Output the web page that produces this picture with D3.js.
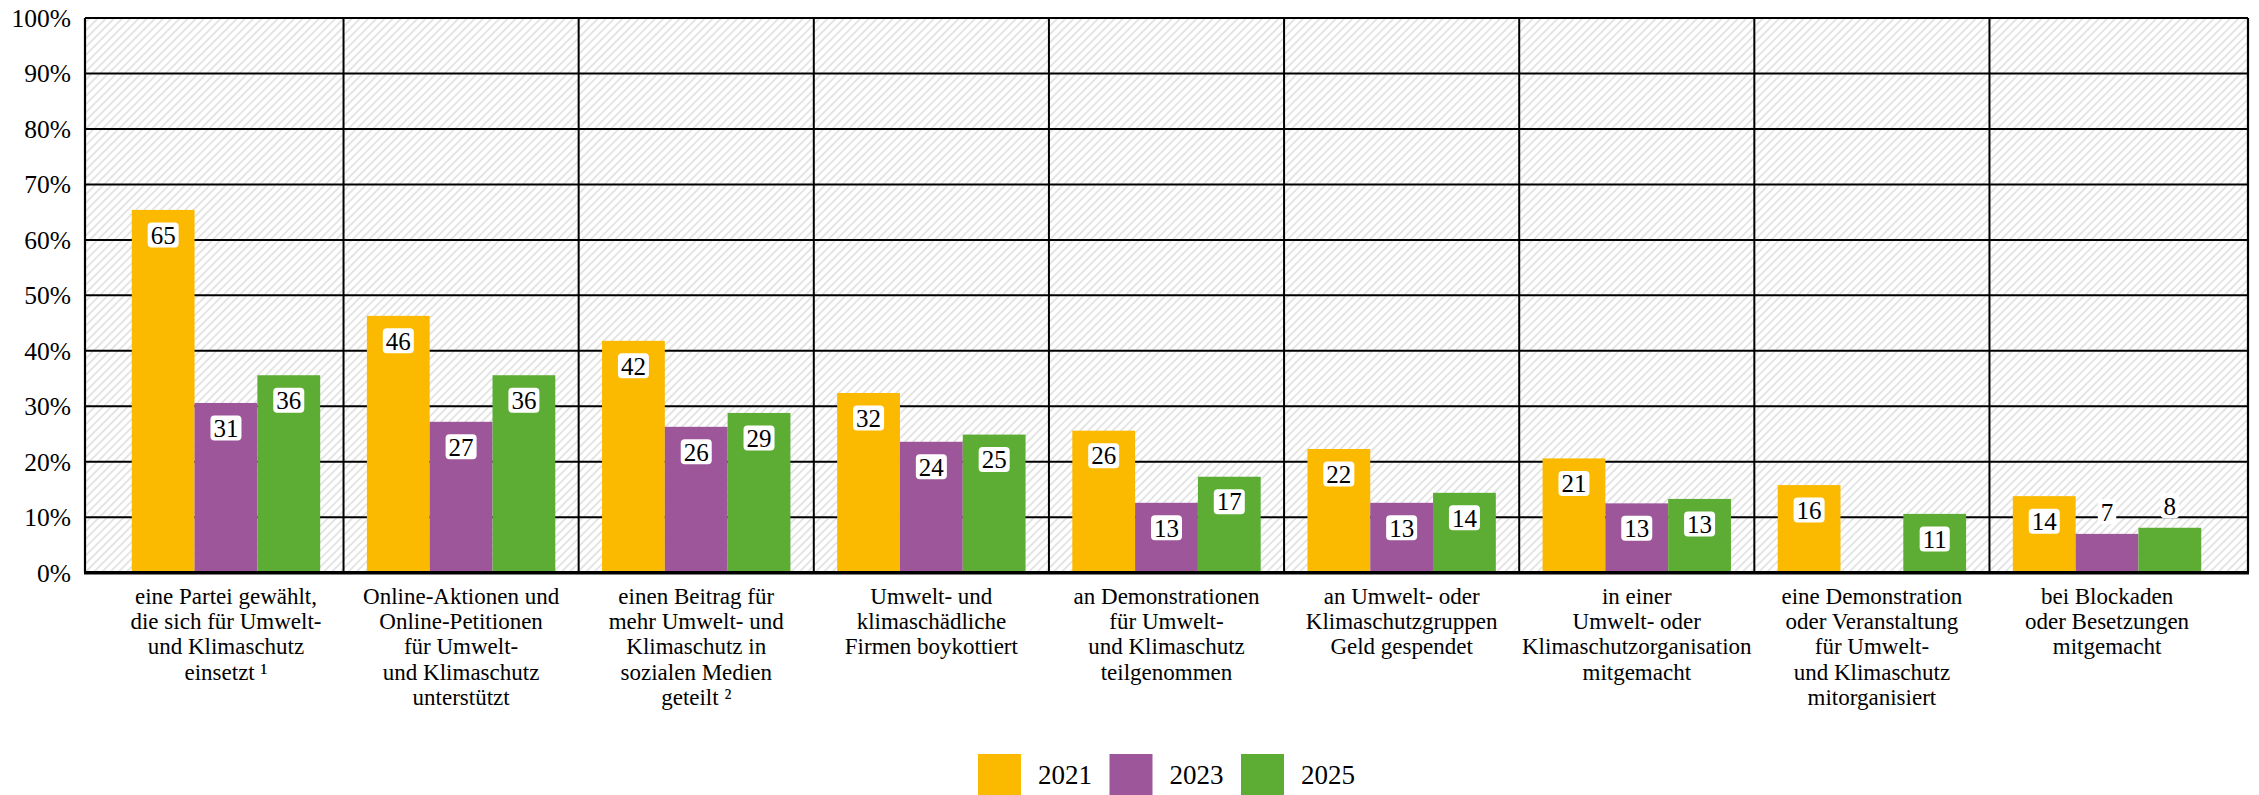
<!DOCTYPE html>
<html>
<head>
<meta charset="utf-8">
<script src="https://cdn.jsdelivr.net/npm/d3@7"></script>
<style>
  body { margin: 0; background: #fff; }
  svg { display: block; font-family: "Liberation Serif", serif; }
</style>
</head>
<body>
<svg id="chart" width="2259" height="795"></svg>
<script>
"use strict";

// categories, one line per row of the axis label
const categories = [
  ["eine Partei gewählt,", "die sich für Umwelt-", "und Klimaschutz", "einsetzt ¹"],
  ["Online-Aktionen und", "Online-Petitionen", "für Umwelt-", "und Klimaschutz", "unterstützt"],
  ["einen Beitrag für", "mehr Umwelt- und", "Klimaschutz in", "sozialen Medien", "geteilt ²"],
  ["Umwelt- und", "klimaschädliche", "Firmen boykottiert"],
  ["an Demonstrationen", "für Umwelt-", "und Klimaschutz", "teilgenommen"],
  ["an Umwelt- oder", "Klimaschutzgruppen", "Geld gespendet"],
  ["in einer", "Umwelt- oder", "Klimaschutzorganisation", "mitgemacht"],
  ["eine Demonstration", "oder Veranstaltung", "für Umwelt-", "und Klimaschutz", "mitorganisiert"],
  ["bei Blockaden", "oder Besetzungen", "mitgemacht"]
];

const years = ["2021", "2023", "2025"];
const colors = ["#FBBA00", "#9C5699", "#5DAD35"];

// percentages per year (null = not asked)
const values2021 = [65.4, 46.3, 41.8, 32.4, 25.6, 22.3, 20.6, 15.8, 13.8];
const values2023 = [30.6, 27.2, 26.3, 23.6, 12.6, 12.6, 12.5, null, 7.0];
const values2025 = [35.6, 35.6, 28.8, 24.9, 17.3, 14.4, 13.3, 10.6, 8.1];

const yTicks = [0, 10, 20, 30, 40, 50, 60, 70, 80, 90, 100];

const series = [values2021, values2023, values2025];

let svg = d3.select('#chart');

let plot = {left: 85, right: 2248, top: 18, bottom: 572.7};

let catIds = categories.map((c, i) => i);

let xScale = d3.scaleBand()
  .domain(catIds)
  .range([108.4, 2224.6]);

let groupWidth = 188.4;
let xInner = d3.scaleBand()
  .domain(years)
  .range([0, groupWidth]);
let groupOffset = (xScale.bandwidth() - groupWidth) / 2;

let yScale = d3.scaleLinear()
  .domain([0, 100])
  .range([plot.bottom, plot.top]);

/* hatch pattern for the plot background */
let defs = svg.append('defs');
defs.append('pattern')
  .attr('id', 'hatch')
  .attr('patternUnits', 'userSpaceOnUse')
  .attr('width', 5.8)
  .attr('height', 5.8)
  .attr('patternTransform', 'rotate(45)')
  .append('rect')
  .attr('width', 1.9)
  .attr('height', 5.8)
  .attr('fill', '#e4e4e4');

svg.append('rect')
  .attr('x', plot.left)
  .attr('y', plot.top)
  .attr('width', plot.right - plot.left)
  .attr('height', plot.bottom - plot.top)
  .attr('fill', '#fff');
svg.append('rect')
  .attr('x', plot.left)
  .attr('y', plot.top)
  .attr('width', plot.right - plot.left)
  .attr('height', plot.bottom - plot.top)
  .attr('fill', 'url(#hatch)');

/* grid */
let grid = svg.append('g');
grid.selectAll('line.h')
  .data(yTicks.filter(t => t > 0))
  .enter()
  .append('line')
  .attr('x1', plot.left)
  .attr('x2', plot.right)
  .attr('y1', d => yScale(d))
  .attr('y2', d => yScale(d))
  .attr('stroke', '#000')
  .attr('stroke-width', 2);

grid.selectAll('line.v')
  .data(catIds.slice(1))
  .enter()
  .append('line')
  .attr('x1', d => xScale(d))
  .attr('x2', d => xScale(d))
  .attr('y1', plot.top)
  .attr('y2', plot.bottom)
  .attr('stroke', '#000')
  .attr('stroke-width', 2);

grid.selectAll('line.b')
  .data([plot.left, plot.right])
  .enter()
  .append('line')
  .attr('x1', d => d)
  .attr('x2', d => d)
  .attr('y1', plot.top)
  .attr('y2', plot.bottom)
  .attr('stroke', '#000')
  .attr('stroke-width', 2.2);

/* bars */
let bars = [];
series.forEach((vals, s) => {
  vals.forEach((v, c) => {
    if (v !== null) bars.push({c: c, s: s, v: v});
  });
});

svg.append('g')
  .selectAll('rect')
  .data(bars)
  .enter()
  .append('rect')
  .attr('x', d => xScale(d.c) + groupOffset + xInner(years[d.s]))
  .attr('y', d => yScale(d.v))
  .attr('width', xInner.bandwidth())
  .attr('height', d => yScale(0) - yScale(d.v))
  .attr('fill', d => colors[d.s]);

/* bottom axis line */
svg.append('line')
  .attr('x1', plot.left - 1)
  .attr('x2', plot.right + 1)
  .attr('y1', plot.bottom)
  .attr('y2', plot.bottom)
  .attr('stroke', '#000')
  .attr('stroke-width', 3.4);

/* value labels */
let labels = svg.append('g')
  .selectAll('g')
  .data(bars)
  .enter()
  .append('g')
  .attr('transform', d => {
    let cx = xScale(d.c) + groupOffset + xInner(years[d.s]) + xInner.bandwidth() / 2;
    let h = yScale(0) - yScale(d.v);
    let cy = h < 50 ? yScale(d.v) - 22 : yScale(d.v) + 25;
    return `translate(${cx},${cy})`;
  });

labels.append('rect')
  .attr('fill', '#fff')
  .attr('rx', 4);

labels.append('text')
  .attr('text-anchor', 'middle')
  .attr('dy', '0.35em')
  .style('font-size', '25px')
  .text(d => Math.round(d.v));

labels.each(function() {
  let g = d3.select(this);
  let w = g.select('text').node().getComputedTextLength();
  g.select('rect')
    .attr('x', -w / 2 - 3)
    .attr('y', -12.5)
    .attr('width', w + 6)
    .attr('height', 25);
});

/* y axis labels */
svg.append('g')
  .selectAll('text')
  .data(yTicks)
  .enter()
  .append('text')
  .attr('x', 71)
  .attr('y', d => yScale(d))
  .attr('dy', '0.35em')
  .attr('text-anchor', 'end')
  .style('font-size', '25.5px')
  .text(d => d + '%');

/* category labels */
svg.append('g')
  .selectAll('text')
  .data(categories)
  .enter()
  .append('text')
  .attr('text-anchor', 'middle')
  .style('font-size', '23px')
  .attr('transform', (d, i) => `translate(${xScale(i) + xScale.bandwidth() / 2},604)`)
  .selectAll('tspan')
  .data(d => d)
  .enter()
  .append('tspan')
  .attr('x', 0)
  .attr('y', (d, i) => i * 25.2)
  .text(d => d);

/* legend */
let legendStep = 131.5;
let legendLeft = (plot.left + plot.right) / 2 - (legendStep * 2 + 114) / 2;
let legend = svg.append('g')
  .selectAll('g')
  .data(years)
  .enter()
  .append('g')
  .attr('transform', (d, i) => `translate(${legendLeft + i * legendStep},754)`);

legend.append('rect')
  .attr('width', 43)
  .attr('height', 43)
  .attr('fill', (d, i) => colors[i]);

legend.append('text')
  .attr('x', 60)
  .attr('y', 30)
  .style('font-size', '27px')
  .text(d => d);
</script>
</body>
</html>
